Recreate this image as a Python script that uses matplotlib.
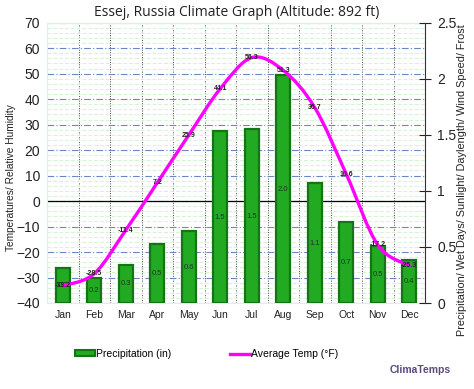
import matplotlib
matplotlib.use("Agg")
import matplotlib.pyplot as plt
import numpy as np
from matplotlib.path import Path
from matplotlib.patches import PathPatch, Patch
from matplotlib.lines import Line2D
from matplotlib.ticker import MultipleLocator

months = ["Jan", "Feb", "Mar", "Apr", "May", "Jun", "Jul", "Aug", "Sep", "Oct", "Nov", "Dec"]
temps = [-33.2, -28.5, -11.4, 7.2, 25.9, 44.1, 56.3, 51.3, 36.7, 10.6, -17.2, -25.3]
precip = [0.31, 0.22, 0.34, 0.53, 0.64, 1.53, 1.55, 2.03, 1.07, 0.72, 0.51, 0.38]
precip_labels = ["0.3", "0.2", "0.3", "0.5", "0.6", "1.5", "1.5", "2.0", "1.1", "0.7", "0.5", "0.4"]
temp_labels = ["-33.2", "-28.5", "-11.4", "7.2", "25.9", "44.1", "56.3", "51.3", "36.7", "10.6", "-17.2", "-25.3"]

plt.rcParams['font.family'] = ['Liberation Sans', 'DejaVu Sans']

W, H = 474, 389
fig = plt.figure(figsize=(W/100, H/100), dpi=100)
ax = fig.add_axes([47/W, 1-303/H, (425-47)/W, (303-22.7)/H])
ax2 = ax.twinx()

x = np.arange(1, 13)
ax.set_xlim(0.5, 12.5)
ax.set_ylim(-40, 70)
ax2.set_ylim(0, 2.5)

# grid on primary
ax.yaxis.set_major_locator(MultipleLocator(10))
ax.yaxis.set_minor_locator(MultipleLocator(2))
ax.grid(which='minor', axis='y', color='#d6f2d6', linestyle=(0, (4, 2)), linewidth=0.7)
ax.grid(which='major', axis='y', color='#6a86c6', linestyle=(0, (6, 2, 1, 2)), linewidth=0.8)
for b in np.arange(1.5, 12.5, 1):
    ax.axvline(b, color='#444444', linestyle=(0, (1, 1.5)), linewidth=0.7, zorder=1)
ax.axhline(0, color='black', linewidth=0.9, zorder=2)

ax.set_xticks(x)
ax.set_xticklabels(months, fontsize=7.5, color='#222222')
ax.tick_params(axis='x', length=0, pad=5)
ax.tick_params(axis='y', which='both', length=0, labelsize=10, pad=5, colors='#222222')
for s in ['top', 'bottom', 'left']:
    ax.spines[s].set_color('#d8f5d8')
ax.spines['right'].set_visible(False)

# secondary
ax2.bar(x, precip, width=0.44, color='#22aa22', edgecolor='#137513', linewidth=1.6, zorder=3)
for xi, p, lab in zip(x, precip, precip_labels):
    ax2.text(xi, p/2, lab, ha='center', va='center', fontsize=5.5, color='#1a3a1a', zorder=4)

ax2.set_yticks([0, 0.5, 1, 1.5, 2, 2.5])
ax2.set_yticklabels(["0", "0.5", "1", "1.5", "2", "2.5"])
ax2.tick_params(axis='y', direction='inout', length=8, width=0.8, labelsize=10, pad=5, colors='#222222')
for s in ['top', 'bottom', 'left']:
    ax2.spines[s].set_visible(False)
ax2.spines['right'].set_color('#333333')

fig.text(11/W, 1-178/H, "Temperatures/ Relative Humidity", rotation=90, ha='center', va='center',
         fontsize=7.3, color='#222222')
fig.text(462/W, 1-24/H, "Precipitation/ Wet Days/ Sunlight/ Daylength/ Wind Speed/ Frost",
         rotation=90, ha='center', va='top', fontsize=7.8, color='#222222')

# smooth temperature curve (Catmull-Rom through the points)
P = np.column_stack([x, temps]).astype(float)
verts = [tuple(P[0])]
codes = [Path.MOVETO]
n = len(P)
for i in range(n - 1):
    p0 = P[i-1] if i > 0 else P[i]
    p1 = P[i]
    p2 = P[i+1]
    p3 = P[i+2] if i + 2 < n else P[i+1]
    c1 = p1 + (p2 - p0) / 6.0
    c2 = p2 - (p3 - p1) / 6.0
    verts += [tuple(c1), tuple(c2), tuple(p2)]
    codes += [Path.CURVE4] * 3
path = Path(verts, codes)
patch = PathPatch(path, facecolor='none', edgecolor='#ff00ff', linewidth=2.4,
                  transform=ax.transData, zorder=5, capstyle='round')
ax2.add_patch(patch)
for xi, t, lab in zip(x, temps, temp_labels):
    ax2.text(xi, t, lab, ha='center', va='center', fontsize=5, fontweight='bold',
             color='#222222', transform=ax.transData, zorder=6)

fig.text(0.5, 1-13/H, "Essej, Russia Climate Graph (Altitude: 892 ft)", ha='center', va='center',
         fontsize=10, color='#222222', family=['Open Sans', 'DejaVu Sans'])

handles = [Patch(facecolor='#22aa22', edgecolor='#137513', linewidth=1.5),
           Line2D([0], [0], color='#ff00ff', linewidth=2.4)]
fig.legend(handles, ["Precipitation (in)", "Average Temp (°F)"], loc='center left',
           bbox_to_anchor=(75/W, 1-354/H), ncol=2, frameon=False, fontsize=7.5,
           borderpad=0, borderaxespad=0,
           handlelength=1.9, handleheight=0.5, handletextpad=0.15, columnspacing=5.6)

fig.text(451/W, 1-370/H, "ClimaTemps", ha='right', va='center', fontsize=7.5,
         fontweight='bold', color='#5a4a80')

fig.savefig("out.png", dpi=100)
